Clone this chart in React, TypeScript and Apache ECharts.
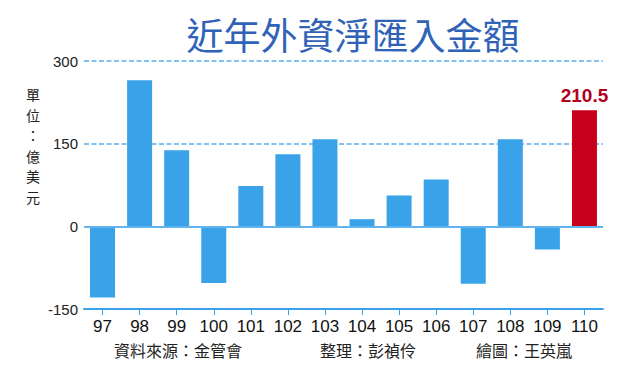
import React, { useEffect, useRef } from "react";
import * as echarts from "echarts";

const years = ["97", "98", "99", "100", "101", "102", "103", "104", "105", "106", "107", "108", "109", "110"];
const values = [-129, 265, 138, -103, 73, 131, 158, 13, 56, 85, -104, 158, -42, 210.5];
const yTicks = { min: -150, max: 300, interval: 150 };
const titleText = "近年外資淨匯入金額";
const unitText = "單位：億美元";
const footerTexts = ["資料來源：金管會", "整理：彭禎伶", "繪圖：王英嵐"];

const BLUE = "#3aa2e9";
const RED = "#c8001e";
const CJK = "'Noto Sans CJK TC', 'Noto Sans CJK SC', sans-serif";
const LATIN = "'Liberation Sans', Arial, sans-serif";

export default function App() {
  const ref = useRef<HTMLDivElement>(null);
  useEffect(() => {
    if (!ref.current) return;
    const chart = echarts.init(ref.current, undefined, { renderer: "svg" });
    const last = values.length - 1;
    const barData = values.map((v, i) =>
      i === last
        ? {
            value: v,
            itemStyle: { color: RED },
            label: {
              show: true,
              position: "top",
              distance: 5,
              formatter: String(v),
              color: "#b0001c",
              fontSize: 19,
              fontWeight: "bold",
              fontFamily: LATIN,
            },
          }
        : { value: v }
    );
    const unitChars = unitText.split("");
    chart.setOption({
      animation: false,
      backgroundColor: "#ffffff",
      grid: { left: 84, width: 519, top: 61, bottom: 62 },
      xAxis: {
        type: "category",
        data: years,
        position: "bottom",
        axisLine: { show: true, onZero: false, lineStyle: { color: BLUE, width: 2 } },
        axisTick: { show: true, alignWithLabel: true, length: 6, lineStyle: { color: BLUE, width: 1 } },
        axisLabel: {
          color: "#111",
          fontSize: 17,
          margin: 9,
          fontFamily: LATIN,
        },
      },
      yAxis: {
        type: "value",
        min: yTicks.min,
        max: yTicks.max,
        interval: yTicks.interval,
        axisLine: { show: false },
        axisTick: { show: false },
        axisLabel: {
          color: "#222",
          fontSize: 15,
          margin: 6,
          fontFamily: LATIN,
        },
        splitLine: {
          show: true,
          lineStyle: { color: "#5aaef0", type: [5, 2.5], width: 1.6 },
        },
      },
      series: [
        {
          type: "bar",
          data: barData,
          barWidth: 25,
          itemStyle: { color: BLUE },
          markLine: {
            silent: true,
            symbol: "none",
            label: { show: false },
            lineStyle: { color: "#62b4ee", type: "solid", width: 2 },
            data: [{ yAxis: 0 }],
          },
        },
      ],
      graphic: [
        {
          type: "text",
          x: 353,
          y: 34,
          style: {
            text: titleText,
            fill: "#3063b8",
            font: `normal 37px ${CJK}`,
            textAlign: "center",
            textVerticalAlign: "middle",
          },
        },
        ...unitChars.map((ch, i) => ({
          type: "text",
          x: 33,
          y: 94 + i * 20.6,
          style: {
            text: ch,
            fill: "#222",
            font: `normal 14px ${CJK}`,
            textAlign: "center",
            textVerticalAlign: "middle",
          },
        })),
        {
          type: "text",
          x: 178,
          y: 350,
          style: { text: footerTexts[0], fill: "#222", font: `normal 16px ${CJK}`, textAlign: "center", textVerticalAlign: "middle" },
        },
        {
          type: "text",
          x: 368,
          y: 350,
          style: { text: footerTexts[1], fill: "#222", font: `normal 16px ${CJK}`, textAlign: "center", textVerticalAlign: "middle" },
        },
        {
          type: "text",
          x: 524,
          y: 350,
          style: { text: footerTexts[2], fill: "#222", font: `normal 16px ${CJK}`, textAlign: "center", textVerticalAlign: "middle" },
        },
      ],
    });
    return () => chart.dispose();
  }, []);
  return (
    <div
      ref={ref}
      style={{ position: "fixed", left: 0, top: 0, width: 631, height: 371, background: "#fff" }}
    />
  );
}
